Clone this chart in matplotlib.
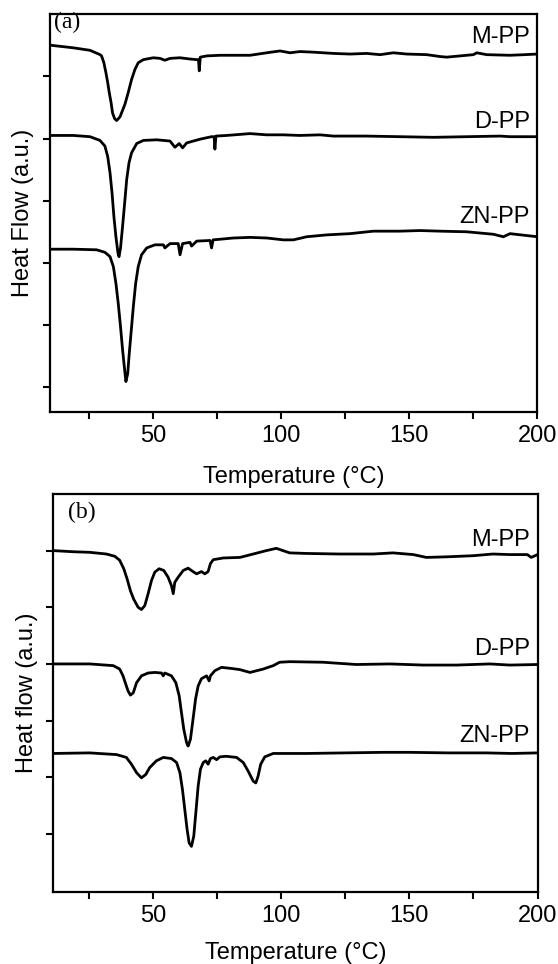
import matplotlib
matplotlib.use("Agg")
import matplotlib.pyplot as plt

plt.rcParams['font.family'] = 'Liberation Sans'
plt.rcParams['font.size'] = 17

# ---- panel (a): cooling scans, heat flow in arbitrary units ----
temp_a_m = [10.5, 19.0, 25.5, 29.4, 30.0, 30.9, 31.7, 32.4, 33.0, 33.7,
            34.3, 35.1, 35.9, 37.2, 39.1, 40.4, 41.7, 43.0, 44.3, 46.3,
            50.2, 52.8, 54.7, 56.7, 60.6, 64.5, 67.1, 67.8, 68.1, 68.5,
            71.0, 76.2, 81.4, 87.9, 94.4, 99.6, 103.5, 107.4, 112.6, 120.4,
            126.9, 133.4, 138.6, 143.8, 149.0, 156.8, 162.0, 164.6, 169.8, 175.0,
            176.3, 180.2, 189.3, 195.0, 200.0]
hf_a_m = [5.50, 5.46, 5.42, 5.35, 5.33, 5.22, 5.06, 4.90, 4.74, 4.58,
          4.41, 4.32, 4.29, 4.35, 4.55, 4.74, 4.95, 5.11, 5.22, 5.27,
          5.30, 5.29, 5.26, 5.29, 5.30, 5.28, 5.27, 5.27, 5.09, 5.31,
          5.33, 5.34, 5.34, 5.34, 5.38, 5.41, 5.38, 5.40, 5.39, 5.37,
          5.36, 5.37, 5.35, 5.38, 5.36, 5.35, 5.32, 5.31, 5.33, 5.35,
          5.38, 5.35, 5.34, 5.35, 5.36]

temp_a_d = [10.5, 19.0, 25.5, 29.4, 31.3, 32.4, 33.3, 34.1, 34.8, 35.6,
            36.4, 36.8, 37.4, 38.2, 39.0, 39.8, 40.7, 41.7, 43.7, 46.3,
            51.5, 56.7, 58.6, 60.3, 61.6, 63.2, 68.4, 72.9, 73.9, 74.2,
            74.6, 78.8, 87.9, 94.4, 100.9, 107.4, 115.2, 120.4, 133.4, 146.4,
            159.4, 172.4, 185.4, 189.3, 200.0]
hf_a_d = [4.05, 4.05, 4.03, 3.97, 3.88, 3.71, 3.45, 3.12, 2.75, 2.42,
          2.16, 2.10, 2.24, 2.59, 2.96, 3.34, 3.61, 3.77, 3.92, 3.97,
          3.98, 3.96, 3.86, 3.92, 3.85, 3.93, 3.99, 4.03, 4.03, 3.83,
          4.04, 4.05, 4.08, 4.06, 4.06, 4.05, 4.06, 4.04, 4.04, 4.03,
          4.02, 4.03, 4.04, 4.03, 4.03]

temp_a_zn = [10.5, 19.0, 28.1, 31.3, 33.3, 34.6, 35.6, 36.5, 37.4, 38.2,
             39.0, 39.5, 40.2, 40.8, 41.6, 42.4, 43.3, 44.3, 45.6, 47.6,
             50.8, 54.1, 54.7, 56.7, 59.9, 60.6, 61.6, 64.5, 65.1, 67.1,
             72.3, 72.9, 73.5, 76.2, 81.4, 87.9, 94.4, 100.9, 104.8, 110.0,
             117.8, 126.9, 136.0, 146.4, 154.2, 162.0, 172.4, 180.2, 182.8, 186.7,
             189.3, 200.0]
hf_a_zn = [2.22, 2.22, 2.21, 2.17, 2.10, 1.94, 1.67, 1.35, 0.97, 0.60,
           0.28, 0.09, 0.22, 0.54, 0.92, 1.30, 1.67, 1.94, 2.13, 2.24,
           2.29, 2.29, 2.24, 2.31, 2.31, 2.13, 2.31, 2.33, 2.27, 2.35,
           2.36, 2.24, 2.37, 2.38, 2.40, 2.41, 2.40, 2.37, 2.37, 2.42,
           2.45, 2.47, 2.51, 2.51, 2.52, 2.51, 2.50, 2.47, 2.46, 2.42,
           2.47, 2.42]

# ---- panel (b): heating scans ----
temp_b_m = [11.1, 18.9, 25.3, 31.8, 35.1, 37.0, 38.6, 39.9, 41.2, 42.5,
            44.2, 45.5, 46.8, 48.1, 49.4, 50.7, 52.4, 54.2, 55.9, 57.2,
            57.9, 58.5, 59.8, 61.8, 63.7, 65.6, 67.0, 68.9, 70.2, 71.5,
            72.4, 73.5, 77.4, 83.9, 89.1, 94.2, 98.1, 99.4, 103.3, 109.8,
            122.8, 135.9, 143.6, 151.5, 156.6, 164.4, 174.8, 182.6, 189.2, 196.0,
            197.5, 200.0]
hf_b_m = [5.00, 4.98, 4.97, 4.94, 4.90, 4.83, 4.68, 4.50, 4.29, 4.14,
          4.00, 3.96, 4.03, 4.24, 4.47, 4.62, 4.68, 4.65, 4.53, 4.38,
          4.24, 4.44, 4.53, 4.65, 4.69, 4.63, 4.59, 4.63, 4.59, 4.63,
          4.77, 4.84, 4.87, 4.88, 4.94, 5.00, 5.04, 5.02, 4.96, 4.95,
          4.94, 4.94, 4.96, 4.93, 4.88, 4.89, 4.91, 4.94, 4.93, 4.93,
          4.88, 4.93]

temp_b_d = [11.1, 25.3, 34.5, 37.0, 38.3, 39.4, 40.3, 41.2, 42.3, 43.6,
            45.5, 48.1, 50.7, 53.3, 54.0, 54.6, 57.2, 58.9, 60.2, 61.1,
            62.0, 63.1, 63.7, 64.6, 65.6, 66.6, 67.6, 68.9, 70.9, 71.9,
            72.4, 74.1, 76.7, 80.6, 83.9, 87.8, 90.4, 93.0, 96.9, 99.4,
            103.3, 116.3, 129.3, 142.4, 155.4, 168.4, 181.4, 189.2, 200.0]
hf_b_d = [3.00, 3.00, 2.97, 2.91, 2.79, 2.64, 2.52, 2.45, 2.49, 2.67,
          2.79, 2.84, 2.85, 2.84, 2.79, 2.84, 2.79, 2.67, 2.44, 2.14,
          1.85, 1.61, 1.55, 1.67, 2.02, 2.38, 2.61, 2.74, 2.79, 2.70,
          2.79, 2.88, 2.94, 2.92, 2.90, 2.85, 2.88, 2.91, 2.97, 3.03,
          3.04, 3.03, 2.99, 3.00, 2.98, 2.98, 3.00, 2.98, 2.99]

temp_b_zn = [11.1, 25.3, 35.8, 39.6, 41.6, 43.6, 45.5, 47.2, 48.7, 51.3,
             54.0, 57.2, 59.2, 60.5, 61.5, 62.4, 63.3, 64.1, 65.0, 65.9,
             66.7, 67.6, 68.5, 69.6, 70.6, 71.5, 72.4, 73.5, 74.8, 76.1,
             78.6, 82.6, 85.2, 87.1, 89.1, 90.1, 91.0, 92.0, 93.6, 96.9,
             99.4, 110.0, 125.0, 140.0, 150.0, 165.0, 180.0, 190.0, 200.0]
hf_b_zn = [1.42, 1.43, 1.40, 1.35, 1.23, 1.08, 0.99, 1.05, 1.17, 1.29,
           1.35, 1.33, 1.26, 1.08, 0.78, 0.43, 0.08, -0.16, -0.22, -0.04,
           0.37, 0.84, 1.14, 1.26, 1.29, 1.23, 1.33, 1.35, 1.31, 1.36,
           1.37, 1.35, 1.26, 1.11, 0.93, 0.90, 1.02, 1.23, 1.36, 1.42,
           1.42, 1.42, 1.43, 1.44, 1.44, 1.43, 1.43, 1.42, 1.43]

sample_names = ["M-PP", "D-PP", "ZN-PP"]
label_y_a = [5.63, 4.26, 2.74]
label_y_b = [5.18, 3.26, 1.73]

fig = plt.figure(figsize=(5.58, 9.64), dpi=100)
ax_a = fig.add_axes([0.0901, 0.5726, 0.8731, 0.4126])
ax_b = fig.add_axes([0.0950, 0.0744, 0.8684, 0.4132])


def style_panel(ax, xmin, ymin, ylab, tag, tag_x, tag_y, lab_x, xlab_y):
    ax.set_xlim(xmin, 200)
    ax.set_ylim(ymin, 6.0)
    ax.set_xticks([50, 100, 150, 200])
    ax.set_xticks([25, 75, 125, 175], minor=True)
    ax.set_yticks([0, 1, 2, 3, 4, 5])
    ax.set_yticklabels([])
    ax.tick_params(which='both', direction='out', length=5, width=1.5,
                   top=False, right=False)
    ax.tick_params(axis='x', pad=4)
    for s in ax.spines.values():
        s.set_linewidth(1.6)
    ax.set_xlabel("Temperature (°C)")
    ax.set_ylabel(ylab)
    ax.xaxis.set_label_coords(0.5, xlab_y)
    ax.xaxis.label.set_va('center')
    ax.yaxis.set_label_coords(lab_x, 0.5)
    ax.yaxis.label.set_va('center')
    ax.text(tag_x, tag_y, tag, family='Liberation Serif', ha='left', va='center')


for t, h in [(temp_a_m, hf_a_m), (temp_a_d, hf_a_d), (temp_a_zn, hf_a_zn)]:
    ax_a.plot(t, h, color='black', lw=2.0)
for name, ly in zip(sample_names, label_y_a):
    ax_a.text(197, ly, name, ha='right', va='center')
style_panel(ax_a, 10, -0.4, "Heat Flow (a.u.)", "(a)", 11.4, 5.87, -0.056, -0.163)

for t, h in [(temp_b_m, hf_b_m), (temp_b_d, hf_b_d), (temp_b_zn, hf_b_zn)]:
    ax_b.plot(t, h, color='black', lw=2.0)
for name, ly in zip(sample_names, label_y_b):
    ax_b.text(197, ly, name, ha='right', va='center')
style_panel(ax_b, 11, -1.03, "Heat flow (a.u.)", "(b)", 16.7, 5.68, -0.054, -0.152)

fig.savefig("out.png", dpi=100)
